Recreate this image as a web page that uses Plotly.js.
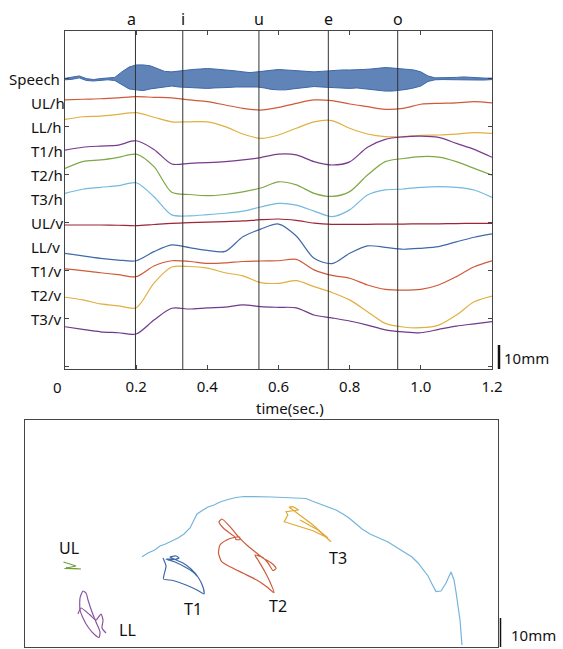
<!DOCTYPE html>
<html><head><meta charset="utf-8">
<script src="https://cdn.plot.ly/plotly-3.0.1.min.js"></script>
<style>html,body{margin:0;padding:0;background:#fff}#chart{width:563px;height:649px}</style>
</head><body><div id="chart"></div>
<script>
// ---------- top panel data (time in s, displacement in mm) ----------
const time = [0,0.05,0.1,0.15,0.2,0.25,0.3,0.35,0.4,0.45,0.5,0.55,0.6,0.65,0.7,0.75,0.8,0.85,0.9,0.95,1.0,1.05,1.1,1.15,1.2];
const ULh = [111.1,111.4,111.6,112.0,112.5,112.2,112.0,111.1,110.4,109.0,107.6,106.9,108.0,109.7,111.1,110.8,109.4,108.3,107.2,107.6,109.3,109.7,109.9,110.4,109.9];
const LLh = [103.0,104.1,104.4,105.1,105.8,103.9,102.0,102.0,102.0,100.0,96.9,95.1,96.5,99.3,102.0,102.5,99.3,96.9,95.8,95.8,96.4,96.5,96.9,97.5,97.2];
const T1h = [90.2,91.4,91.9,92.3,94.1,90.5,84.4,84.7,85.0,85.4,86.1,87.1,88.5,88.2,85.4,84.0,85.3,91.4,94.7,95.7,96.0,95.5,93.0,90.5,87.2];
const T2h = [82.6,85.4,86.1,87.2,88.5,83.3,72.6,71.7,71.2,71.7,72.8,74.4,77.0,75.7,72.2,70.9,72.9,79.8,85.4,86.7,87.5,87.3,85.4,82.6,79.8];
const T3h = [72.2,73.9,74.7,75.4,76.6,70.8,63.2,62.8,63.3,63.9,64.8,66.5,68.0,67.3,64.8,62.5,65.3,71.5,73.6,74.0,74.7,75.0,74.7,73.6,70.5];
const ULv = [59.0,59.0,59.0,58.9,58.7,59.2,59.7,60.0,60.2,60.4,60.7,61.2,61.5,60.9,59.8,59.3,59.3,59.3,59.4,59.4,59.5,59.5,59.6,59.7,59.7];
const LLv = [47.2,46.1,45.1,44.4,44.1,47.9,50.7,49.6,48.4,48.0,54.1,57.3,59.4,54.4,45.1,42.9,47.2,50.3,49.7,48.9,49.3,50.0,52.0,53.9,55.3];
const T1v = [40.7,40.0,39.1,38.3,37.5,41.9,44.1,43.8,43.0,43.2,43.8,44.0,44.1,44.7,40.3,38.0,36.8,34.0,32.2,31.9,32.2,34.0,37.5,41.6,44.1];
const T2v = [28.9,27.8,26.1,25.3,24.5,34.8,41.5,41.7,41.0,39.1,37.8,35.0,34.7,35.8,33.3,30.9,27.8,22.9,18.0,16.5,16.2,17.3,21.5,27.0,29.4];
const T3v = [16.6,15.5,14.5,14.1,13.6,19.4,24.3,24.0,24.5,24.8,25.7,25.0,24.7,24.5,21.5,20.3,19.0,17.3,15.3,14.5,14.1,15.5,16.9,17.8,18.7];

// speech waveform envelope (upper / lower) in the same units
const speechT = [0,0.02,0.04,0.06,0.08,0.1,0.12,0.14,0.16,0.18,0.2,0.22,0.24,0.26,0.28,0.3,0.32,0.34,0.36,0.38,0.4,0.42,0.44,0.46,0.48,0.5,0.52,0.54,0.56,0.58,0.6,0.62,0.64,0.66,0.68,0.7,0.72,0.74,0.76,0.78,0.8,0.82,0.84,0.86,0.88,0.9,0.92,0.94,0.96,0.98,1.0,1.02,1.04,1.06,1.08,1.1,1.12,1.14,1.16,1.18,1.2];
const speechHi = [120.1,120.5,121.1,120.0,119.6,120.0,120.1,120.5,122.8,124.8,125.7,125.7,125.3,124.0,123.0,122.8,123.2,123.6,123.8,124.0,124.2,124.0,123.8,123.6,123.2,122.8,122.5,122.8,123.2,123.6,123.8,123.6,123.4,123.2,123.0,122.8,123.0,123.2,123.6,123.6,123.6,123.6,123.8,124.0,124.4,124.6,124.4,124.2,124.0,123.6,122.8,121.1,120.3,120.3,120.2,120.5,120.7,120.5,120.2,120.2,120.2];
const speechLo = [119.5,119.7,120.3,119.2,119.0,119.4,119.5,119.2,117.3,115.7,115.3,115.0,115.7,116.1,116.7,116.9,116.5,116.3,116.1,116.1,115.9,116.1,116.1,116.3,116.5,116.5,116.7,116.5,116.1,115.5,115.3,115.3,115.7,116.1,116.5,116.7,116.5,116.3,116.1,115.9,115.9,116.1,115.7,115.3,115.0,114.8,114.8,115.0,115.5,116.1,116.9,118.8,119.5,119.6,119.5,119.6,119.6,119.5,119.4,119.4,119.6];

const channelNames = ['UL/h','LL/h','T1/h','T2/h','T3/h','UL/v','LL/v','T1/v','T2/v','T3/v'];
const channelLevels = [110,100,90,80,70,60,50,40,30,20];
const speechLevel = 120;
const vowelTimes = [0.198,0.331,0.545,0.740,0.935];
const vowelLabels = ['a','i','u','e','o'];
const xTickVals = [0.2,0.4,0.6,0.8,1.0,1.2];
const xTickText = ['0.2','0.4','0.6','0.8','1.0','1.2'];

// ---------- bottom panel data (mm) ----------
const palateX = [39.17,41.17,43.4,45.17,47.0,49.17,51.17,53.17,55.17,56.5,57.5,59.5,61.17,63.17,65.17,67.83,70.5,73.17,75.83,79.17,82.5,86.5,90.5,93.83,95.83,98.5,101.17,103.83,106.17,108.17,110.17,112.5,115.17,118.5,121.17,123.83,126.5,129.17,131.17,132.83,134.5,135.83,137.17,138.83,140.5,142.17,143.17,143.83,144.5,145.17,145.83];
const palateY = [30.1,31.33,32.33,33.67,34.33,35.33,36.33,37.67,39.67,42.33,44.33,45.67,46.67,47.33,48.33,49.17,49.83,50.17,50.17,50.17,50.0,49.83,49.67,49.5,48.67,47.67,46.67,45.67,44.33,43.0,41.33,39.33,37.67,36.33,35.0,33.33,31.67,30.0,28.0,26.0,23.67,21.0,18.5,18.67,21.33,25.0,22.33,18.33,14.0,9.0,0.67];
const ulX = [13.0,17.17,13.33,18.83,13.83];
const ulY = [28.33,27.0,26.17,26.0,26.5];
const llX = [19.5,18.5,18.5,19.5,21.17,23.5,24.83,25.17,23.83,22.5,21.17,20.5,19.5,null,17.83,18.83,21.83,23.83,25.5,26.17,25.83,27.17];
const llY = [18.67,16.33,12.33,9.67,6.67,4.0,3.17,5.0,8.33,11.67,15.67,18.0,18.67,null,11.0,13.0,10.67,9.0,11.0,9.0,6.33,4.67];
const t1X = [46.17,47.17,46.5,46.33,49.5,53.83,57.5,59.83,59.5,57.83,55.5,52.83,50.5,48.5,50.5,51.5,49.83,47.17,50.17,53.5,56.17,57.5];
const t1Y = [29.67,27.0,24.0,22.67,22.17,20.67,19.0,17.67,20.0,23.33,26.0,28.0,29.0,30.0,30.33,29.67,29.17,29.33,28.33,26.67,25.0,23.67];
const t2X = [83.17,80.73,77.4,72.93,68.5,65.73,64.67,65.17,67.4,69.83,71.67,71.83,70.5,70.17,68.5,66.27,64.83,65.83,68.5,71.27,74.07,76.83,79.6,82.4,83.83,82.83,81.17,79.17,76.83,77.83,80.17,81.83,83.17];
const t2Y = [18.1,20.1,22.33,24.57,26.77,28.43,31.33,34.0,35.67,36.5,36.67,35.83,35.83,36.67,37.9,39.67,41.67,42.67,40.1,36.77,34.0,31.77,29.57,27.9,26.17,25.5,28.0,30.0,30.67,29.0,25.0,21.67,18.1];
const t3X = [89.57,91.37,87.17,87.77,86.57,91.37,96.17,100.33,102.17,99.73,96.17,92.5,90.17,88.17,89.57,null,91.83,97.83,101.17];
const t3Y = [46.77,45.67,45.1,44.0,41.77,40.33,38.77,36.77,35.1,37.33,40.67,43.43,45.1,46.67,46.77,null,42.33,39.0,36.33];
const trajNames = ['UL','LL','T1','T2','T3'];
const trajLabelX = [14.93,34.4,56.0,84.6,104.5];
const trajLabelY = [32.9,5.67,12.73,13.73,29.57];

// ---------- layout helpers ----------
const W = 563, H = 649;
const fx = p => p / W;
const fy = p => 1 - p / H;
const FONT = '"Noto Sans", "DejaVu Sans", sans-serif';
const topYRange = [-1, 139.83];
const botXRange = [0, 157.83];
const botYRange = [0, 75.67];

const chanColors = ['#cf5a3a','#e0b040','#7a3a8c','#7fa846','#73b9e0','#9c2536','#3f69a8','#cf5a3a','#e0b040','#6e3a8a'];
const chanData = [ULh,LLh,T1h,T2h,T3h,ULv,LLv,T1v,T2v,T3v];
const speechColor = '#3d68a8';

const traces = [];
traces.push({x: speechT, y: speechHi, mode:'lines', line:{color:speechColor,width:1}, hoverinfo:'skip', xaxis:'x', yaxis:'y', showlegend:false});
traces.push({x: speechT, y: speechLo, mode:'lines', line:{color:speechColor,width:1}, fill:'tonexty', fillcolor:'rgba(61,104,168,0.82)', hoverinfo:'skip', xaxis:'x', yaxis:'y', showlegend:false});
chanData.forEach((d,i) => traces.push({x: time, y: d, mode:'lines', line:{color:chanColors[i], width:1.2, shape:'spline', smoothing:0.8}, hoverinfo:'skip', xaxis:'x', yaxis:'y', showlegend:false}));

const trajSets = [
  [palateX, palateY, '#74b4da', 'linear'],
  [ulX, ulY, '#6f9e3a', 'linear'],
  [llX, llY, '#8a55a0', 'spline'],
  [t1X, t1Y, '#3f69a8', 'spline'],
  [t2X, t2Y, '#cf5a3a', 'spline'],
  [t3X, t3Y, '#e0a830', 'linear']
];
trajSets.forEach(s => traces.push({x:s[0], y:s[1], mode:'lines', line:{color:s[2], width:1.2, shape:s[3], smoothing:0.6}, hoverinfo:'skip', xaxis:'x2', yaxis:'y2', showlegend:false, connectgaps:false}));

const annotations = [];
annotations.push({xref:'paper', yref:'y', x:fx(61.5), y:speechLevel, text:'Speech', showarrow:false, xanchor:'right', yanchor:'middle', font:{family:FONT,size:15,color:'#111'}});
channelNames.forEach((n,i) => annotations.push({xref:'paper', yref:'y', x:fx(28.5), y:channelLevels[i], text:n, showarrow:false, xanchor:'left', yanchor:'middle', font:{family:FONT,size:15,color:'#111'}}));
vowelLabels.forEach((v,i) => annotations.push({xref:'x', yref:'paper', x:vowelTimes[i], y:fy(19), text:v, showarrow:false, xanchor:'center', yanchor:'middle', xshift: i===0 ? -4 : 0, font:{family:FONT,size:16,color:'#111'}}));
annotations.push({xref:'paper', yref:'paper', x:fx(57.5), y:fy(387), text:'0', showarrow:false, xanchor:'center', yanchor:'middle', font:{family:FONT,size:15,color:'#111'}});
annotations.push({xref:'paper', yref:'paper', x:fx(290), y:fy(408), text:'time(sec.)', showarrow:false, xanchor:'center', yanchor:'middle', font:{family:FONT,size:15,color:'#111'}});
annotations.push({xref:'paper', yref:'paper', x:fx(502), y:fy(358), text:'10mm', showarrow:false, xanchor:'left', yanchor:'middle', font:{family:FONT,size:15,color:'#111'}});
annotations.push({xref:'paper', yref:'paper', x:fx(509), y:fy(635), text:'10mm', showarrow:false, xanchor:'left', yanchor:'middle', font:{family:FONT,size:15,color:'#111'}});
trajNames.forEach((n,i) => annotations.push({xref:'x2', yref:'y2', x:trajLabelX[i], y:trajLabelY[i], text:n, showarrow:false, xanchor:'center', yanchor:'middle', font:{family:FONT,size:16,color:'#111'}}));

const shapes = [];
vowelTimes.forEach(t => shapes.push({type:'line', xref:'x', yref:'y', x0:t, x1:t, y0:topYRange[0], y1:topYRange[1], line:{color:'#333', width:1}}));
shapes.push({type:'line', xref:'paper', yref:'y', x0:fx(499), x1:fx(499), y0:-1, y1:9, line:{color:'#111', width:2.5}});
shapes.push({type:'line', xref:'paper', yref:'y2', x0:fx(500.5), x1:fx(500.5), y0:-0.33, y1:9.67, line:{color:'#111', width:1.5}});

const layout = {
  width: W, height: H,
  margin: {l:0, r:0, t:0, b:0},
  paper_bgcolor:'#fff', plot_bgcolor:'#fff',
  showlegend:false,
  font:{family:FONT, size:15, color:'#111'},
  xaxis: {domain:[fx(65), fx(492)], range:[0,1.2], anchor:'y', tickvals:xTickVals, ticktext:xTickText,
    ticks:'inside', ticklen:4, tickcolor:'#444', mirror:'ticks', showline:true, linecolor:'#444', linewidth:1,
    ticklabelstandoff:4,
    showgrid:false, zeroline:false, tickfont:{family:FONT,size:15,color:'#111'}},
  yaxis: {domain:[fy(369), fy(31)], range:topYRange, anchor:'x', tickvals:[0,20,40,60,80,100,120],
    showticklabels:false, ticks:'inside', ticklen:4, tickcolor:'#444', mirror:'ticks', showline:true, linecolor:'#444', linewidth:1,
    showgrid:false, zeroline:false},
  xaxis2: {domain:[fx(24.5), fx(498)], range:botXRange, anchor:'y2', showticklabels:false, ticks:'', showline:true, mirror:true,
    linecolor:'#444', linewidth:1, showgrid:false, zeroline:false},
  yaxis2: {domain:[fy(647), fy(420)], range:botYRange, anchor:'x2', showticklabels:false, ticks:'', showline:true, mirror:true,
    linecolor:'#444', linewidth:1, showgrid:false, zeroline:false},
  annotations, shapes
};
Plotly.newPlot('chart', traces, layout, {staticPlot:true, displayModeBar:false});
</script></body></html>
